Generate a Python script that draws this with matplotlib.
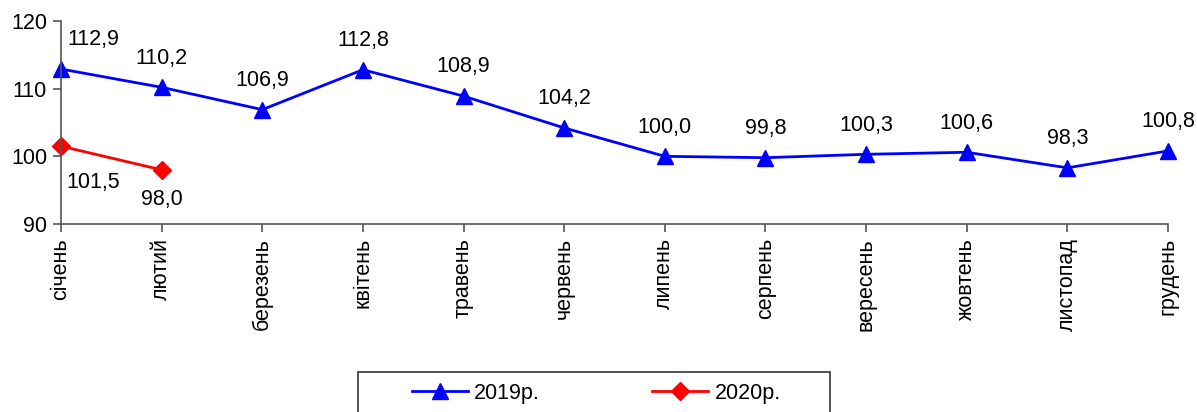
import matplotlib
matplotlib.use("Agg")
import matplotlib.pyplot as plt
from matplotlib.patches import Rectangle

months = ["січень", "лютий", "березень", "квітень", "травень", "червень",
          "липень", "серпень", "вересень", "жовтень", "листопад", "грудень"]
v2019 = [112.9, 110.2, 106.9, 112.8, 108.9, 104.2, 100.0, 99.8, 100.3, 100.6, 98.3, 100.8]
v2020 = [101.5, 98.0]
yticks = [90, 100, 110, 120]

plt.rcParams['font.family'] = ['Liberation Sans', 'DejaVu Sans']
fig = plt.figure(figsize=(11.97, 4.12), dpi=100)
ax = fig.add_axes([61/1197, 1-224/412, (1168-61)/1197, (224-21)/412])

x19 = list(range(len(v2019)))
x20 = list(range(len(v2020)))
l1, = ax.plot(x19, v2019, color='#0000FF', lw=2, marker='^', ms=12, label='2019р.', clip_on=False)
l2, = ax.plot(x20, v2020, color='#FF0000', lw=2, marker='D', ms=9, label='2020р.', clip_on=False)

def fmt(v):
    return f"{v:.1f}".replace('.', ',')

for i, v in enumerate(v2019):
    dx = 32 if i == 0 else 0
    ax.annotate(fmt(v), (i, v), xytext=(dx * 0.72, 21), textcoords='offset points',
                ha='center', va='center', fontsize=15.5)
for i, v in enumerate(v2020):
    dx = 32 if i == 0 else 0
    dy = -26 if i == 0 else -21
    ax.annotate(fmt(v), (i, v), xytext=(dx * 0.72, dy), textcoords='offset points',
                ha='center', va='center', fontsize=15.5)

ax.set_xlim(0, len(months) - 1)
ax.set_ylim(90, 120)
ax.set_yticks(yticks)
ax.set_yticklabels([str(t) for t in yticks], fontsize=15.5)
ax.set_xticks(x19)
ax.set_xticklabels(months, rotation=90, fontsize=15.5, va='top')
for s in ['top', 'right']:
    ax.spines[s].set_visible(False)
for s in ['left', 'bottom']:
    ax.spines[s].set_color('#555555')
    ax.spines[s].set_linewidth(1.2)
ax.tick_params(axis='both', direction='out', length=6, width=1.2, color='#555555', pad=4)

# legend frame (runs off the bottom edge like the reference)
fig.patches.append(Rectangle((358/1197, -0.05), (830-358)/1197, 0.05 + 1 - 372/412,
                             transform=fig.transFigure, fill=False,
                             edgecolor='#333333', linewidth=1.2))
leg = fig.legend(handles=[l1, l2], loc='center',
                 bbox_to_anchor=((358 + 830) / 2 / 1197 + 0.002, 1 - 393/412),
                 ncol=2, fontsize=15.5, frameon=False, handlelength=2.6,
                 handletextpad=0.3, columnspacing=5.2, borderaxespad=0)

fig.savefig("out.png", dpi=100)
